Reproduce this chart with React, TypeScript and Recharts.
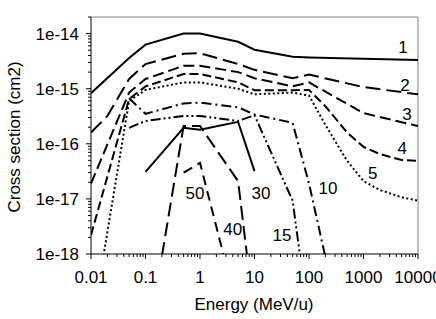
import React from 'react';
import { LineChart, Line, XAxis, YAxis, ReferenceLine, ReferenceDot } from 'recharts';

const FONT = '"Liberation Sans", Arial, Helvetica, sans-serif';

// axis ticks
const xMajor = [0.01, 0.1, 1, 10, 100, 1000, 10000];
const xLabels = ['0.01', '0.1', '1', '10', '100', '1000', '10000'];
const yMajor = [1e-18, 1e-17, 1e-16, 1e-15, 1e-14];
const yLabels = ['1e-18', '1e-17', '1e-16', '1e-15', '1e-14'];
const minorSteps = [2, 3, 4, 5, 6, 7, 8, 9];

// energies (MeV/u) and cross sections (cm2), one pair per curve
const e1 = [0.01, 0.05, 0.1, 0.5, 1, 5, 10, 50, 100, 1000, 10000];
const s1 = [8.3e-16, 3.6e-15, 6.3e-15, 1e-14, 1e-14, 7.1e-15, 5.1e-15, 3.8e-15, 3.7e-15, 3.5e-15, 3.3e-15];

const e2 = [0.01, 0.02, 0.05, 0.1, 0.5, 1, 5, 10, 50, 100, 1000, 10000];
const s2 = [1.6e-16, 3.2e-16, 1.5e-15, 2.8e-15, 4.3e-15, 4.4e-15, 2.8e-15, 2.2e-15, 1.55e-15, 1.8e-15, 1.07e-15, 7.9e-16];

const e3 = [0.01, 0.05, 0.1, 0.5, 1, 5, 10, 50, 100, 1000, 10000];
const s3 = [1.9e-17, 8.5e-16, 1.5e-15, 2.6e-15, 2.6e-15, 2e-15, 1.55e-15, 1.1e-15, 1.3e-15, 3.6e-16, 2.1e-16];

const e4 = [0.01, 0.05, 0.1, 0.5, 1, 5, 10, 50, 100, 200, 500, 1000, 2000, 5000, 10000];
const s4 = [2.2e-18, 6.5e-16, 1.1e-15, 1.85e-15, 1.85e-15, 1.3e-15, 9.4e-16, 9.4e-16, 9.5e-16, 4.8e-16, 1.6e-16, 8.8e-17, 6.5e-17, 5.1e-17, 4.9e-17];

const e5 = [0.01, 0.05, 0.1, 0.5, 1, 5, 10, 50, 100, 200, 500, 1000, 2000, 5000, 10000];
const s5 = [4e-20, 6e-16, 9.5e-16, 1.3e-15, 1.3e-15, 1e-15, 7.9e-16, 8.5e-16, 7.5e-16, 2.2e-16, 4.9e-17, 2.1e-17, 1.45e-17, 1.07e-17, 9.3e-18];

const e10 = [0.05, 0.1, 0.5, 1, 5, 10, 50, 100, 500];
const s10 = [6.7e-16, 3.5e-16, 5.4e-16, 5.6e-16, 4.6e-16, 3.4e-16, 2.4e-16, 1.9e-17, 1.5e-20];

const e15 = [0.05, 0.1, 0.5, 1, 5, 10, 50, 100];
const s15 = [1.95e-16, 2.6e-16, 3.2e-16, 3.2e-16, 2.6e-16, 3.3e-16, 9.3e-18, 5.9e-20];

const e30 = [0.1, 0.5, 1, 5, 10];
const s30 = [3.1e-17, 1.95e-16, 1.8e-16, 2.5e-16, 3.2e-17];

const e40 = [0.1, 0.5, 1, 5, 10];
const s40 = [1.5e-20, 2.1e-16, 2.1e-16, 2.1e-17, 7e-20];

const e50 = [0.5, 1, 5];
const s50 = [3e-17, 4.5e-17, 9e-20];

// curve labels, placed in data coordinates
const curveLabels = ['1', '2', '3', '4', '5', '10', '15', '30', '40', '50'];
const labelE = [5300, 5800, 6300, 5150, 1480, 223, 32, 13.2, 4.0, 0.81];
const labelS = [5.8e-15, 1.15e-15, 3.55e-16, 8.5e-17, 2.95e-17, 1.55e-17, 2.2e-18, 1.26e-17, 2.9e-18, 1.26e-17];

const withMinors = (majors: number[], top: number) => {
  const out: number[] = [];
  majors.forEach((m) => {
    out.push(m);
    minorSteps.forEach((k) => {
      if (m * k <= top * 1.0000001) out.push(m * k);
    });
  });
  return out;
};
const xTicks = withMinors(xMajor, 10000);
const yTicks = withMinors(yMajor, 2e-14);

const pts = (e: number[], s: number[]) => e.map((x, i) => ({ e: x, v: s[i] }));

const series = [
  { id: '1', data: pts(e1, s1), dash: undefined },
  { id: '2', data: pts(e2, s2), dash: '15 6' },
  { id: '3', data: pts(e3, s3), dash: '11 5' },
  { id: '4', data: pts(e4, s4), dash: '9 4' },
  { id: '5', data: pts(e5, s5), dash: '2 2.5' },
  { id: '10', data: pts(e10, s10), dash: '10 4 2 4' },
  { id: '15', data: pts(e15, s15), dash: '10 3 2 3 2 3' },
  { id: '30', data: pts(e30, s30), dash: undefined },
  { id: '40', data: pts(e40, s40), dash: '14 6' },
  { id: '50', data: pts(e50, s50), dash: '10 6' },
];

const XTick = (props: any) => {
  const { x, y, payload } = props;
  const i = xMajor.indexOf(payload.value);
  return (
    <g>
      <line x1={x} y1={y} x2={x} y2={y + (i >= 0 ? 5 : 3)} stroke="#000" strokeWidth={1} />
      {i >= 0 && (
        <text x={x} y={y + 29} textAnchor="middle" fontSize={17} fontFamily={FONT} fill="#000">
          {xLabels[i]}
        </text>
      )}
    </g>
  );
};

const YTick = (props: any) => {
  const { x, y, payload } = props;
  const i = yMajor.indexOf(payload.value);
  return (
    <g>
      <line x1={x} y1={y} x2={x - (i >= 0 ? 5 : 3)} y2={y} stroke="#000" strokeWidth={1} />
      {i >= 0 && (
        <text x={x - 12} y={y + 6} textAnchor="end" fontSize={17} fontFamily={FONT} fill="#000">
          {yLabels[i]}
        </text>
      )}
    </g>
  );
};

export default function App() {
  return (
    <div
      style={{
        position: 'absolute',
        left: 0,
        top: 0,
        width: 436,
        height: 319,
        background: '#fff',
        fontFamily: FONT,
        overflow: 'hidden',
      }}
    >
      <LineChart width={436} height={319} margin={{ top: 17, right: 18, left: 0, bottom: 0 }}>
        <XAxis
          dataKey="e"
          type="number"
          scale="log"
          domain={[0.01, 10000]}
          ticks={xTicks}
          interval={0}
          tickSize={0}
          tickMargin={0}
          tickLine={false}
          tick={<XTick />}
          axisLine={{ stroke: '#000', strokeWidth: 1 }}
          allowDataOverflow
          height={65}
        />
        <YAxis
          type="number"
          scale="log"
          domain={[1e-18, 2e-14]}
          ticks={yTicks}
          interval={0}
          tickSize={0}
          tickMargin={0}
          tickLine={false}
          tick={<YTick />}
          axisLine={{ stroke: '#000', strokeWidth: 1 }}
          allowDataOverflow
          width={91}
        />
        <ReferenceLine x={10000} stroke="#808080" strokeWidth={1} />
        <ReferenceLine y={2e-14} stroke="#808080" strokeWidth={1} />
        {series.map((s) => (
          <Line
            key={s.id}
            data={s.data}
            dataKey="v"
            type="linear"
            stroke="#000"
            strokeWidth={2}
            strokeDasharray={s.dash}
            dot={false}
            activeDot={false}
            isAnimationActive={false}
          />
        ))}
        {curveLabels.map((t, i) => (
          <ReferenceDot
            key={t}
            x={labelE[i]}
            y={labelS[i]}
            r={0}
            fill="none"
            stroke="none"
            ifOverflow="visible"
            label={{ value: t, position: 'center', fontSize: 17, fill: '#000', fontFamily: FONT }}
          />
        ))}
      </LineChart>
      <svg
        width={436}
        height={319}
        style={{ position: 'absolute', left: 0, top: 0, pointerEvents: 'none' }}
      >
        <text
          transform="translate(20,137) rotate(-90)"
          textAnchor="middle"
          fontSize={17}
          fontFamily={FONT}
          fill="#000"
        >
          Cross section (cm2)
        </text>
        <text x={254} y={310} textAnchor="middle" fontSize={17} fontFamily={FONT} fill="#000">
          Energy (MeV/u)
        </text>
      </svg>
    </div>
  );
}
